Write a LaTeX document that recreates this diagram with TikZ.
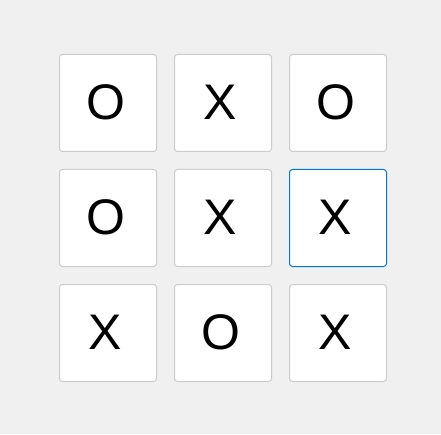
\documentclass[tikz,border=0pt]{standalone}
\usepackage{fontspec}
\setmainfont{Liberation Sans}
\usepackage{tikz}

\definecolor{winbg}{HTML}{F0F0F0}
\definecolor{cellline}{HTML}{CCCCCC}
\definecolor{focusblue}{HTML}{0078D7}

\tikzset{
  plain/.style = {draw = cellline, fill = white, line width = 1pt,
    rounded corners = 3pt, minimum size = 97pt, inner sep = 0pt,
    font = \fontsize{50}{60}\selectfont},
  focused/.style = {plain, draw = focusblue}
}

\begin{document}
\begin{tikzpicture}[x=1pt, y=1pt]

% Window background
\fill [winbg] (0,0) rectangle (441,434);
\useasboundingbox (0,0) rectangle (441,434);

% Board (row by row); the marks sit a little left of centre
\foreach \m [count=\i from 0,
    evaluate=\i as \c using {int(mod(\i,3))},
    evaluate=\i as \r using {int(\i/3)}] in {O,X,O,O,X,X,X,O,X} {
  \ifnum\i=5 \def\look{focused}\else\def\look{plain}\fi
  \node [\look] (cell\r\c) at (108+115*\c, 331-115*\r)
    {\raisebox{1pt}{\m}\kern5pt};
}

\end{tikzpicture}
\end{document}
